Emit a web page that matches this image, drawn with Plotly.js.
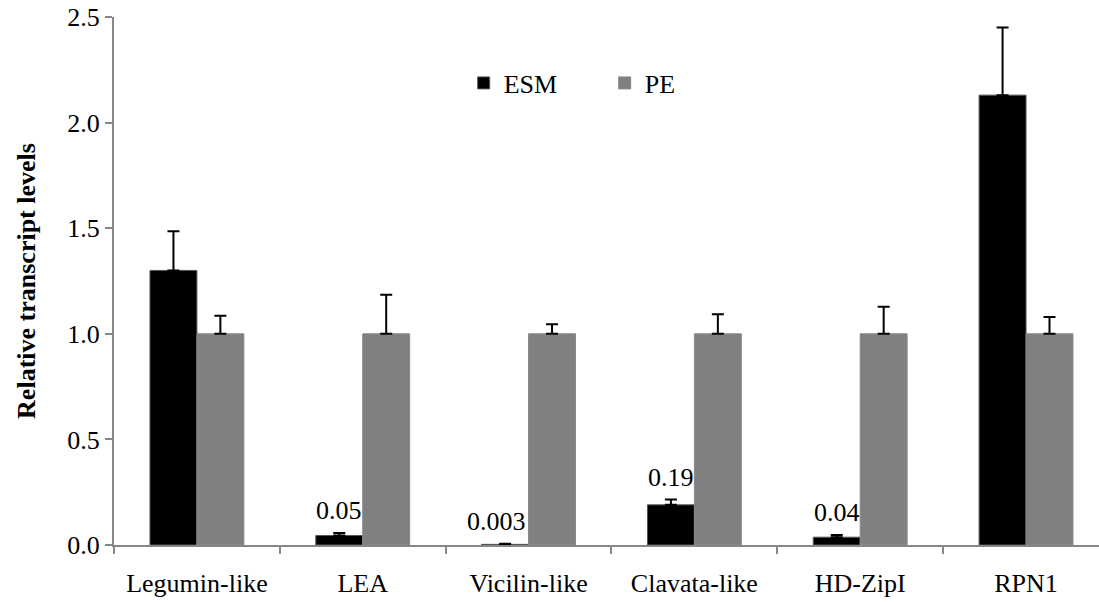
<!DOCTYPE html>
<html>
<head>
<meta charset="utf-8">
<script src="https://cdn.plot.ly/plotly-3.0.1.min.js"></script>
<style>
html,body{margin:0;padding:0;overflow:hidden;background:#fff;}
#chart{width:1099px;height:602px;}
</style>
</head>
<body>
<div id="chart"></div>
<script>
const categories = ['Legumin-like', 'LEA', 'Vicilin-like', 'Clavata-like', 'HD-ZipI', 'RPN1'];
const esmValues = [1.30, 0.045, 0.003, 0.19, 0.037, 2.13];
const esmErrors = [0.185, 0.012, 0.003, 0.025, 0.01, 0.32];
const peValues = [1.0, 1.0, 1.0, 1.0, 1.0, 1.0];
const peErrors = [0.086, 0.185, 0.045, 0.092, 0.128, 0.08];
const esmLabels = ['', '0.05', '0.003', '0.19', '0.04', ''];
const yTicks = [0, 0.5, 1.0, 1.5, 2.0, 2.5];

const FONT = 'Liberation Serif, Times New Roman, Times, serif';
const AXIS_COLOR = '#878787';

const traces = [
  {
    type: 'bar', name: 'ESM', x: categories, y: esmValues,
    marker: {color: '#000000', line: {color: '#555555', width: 1}},
    error_y: {type: 'data', array: esmErrors, arrayminus: esmValues.map(() => 0), symmetric: false,
              color: '#000000', thickness: 2, width: 6},
    hoverinfo: 'x+y'
  },
  {
    type: 'bar', name: 'PE', x: categories, y: peValues,
    marker: {color: '#808080', line: {color: '#888888', width: 1}},
    error_y: {type: 'data', array: peErrors, arrayminus: peValues.map(() => 0), symmetric: false,
              color: '#000000', thickness: 2, width: 6},
    hoverinfo: 'x+y'
  }
];

const annotations = [];
categories.forEach((c, i) => {
  if (esmLabels[i]) {
    annotations.push({
      x: c, y: esmValues[i] + esmErrors[i], xref: 'x', yref: 'y',
      text: esmLabels[i], showarrow: false,
      xshift: (esmLabels[i].length > 4 ? -32 : -23.5), yshift: 6, yanchor: 'bottom',
      font: {family: FONT, size: 26, color: '#000'}
    });
  }
});

const layout = {
  width: 1099, height: 602,
  margin: {l: 114, r: 0, t: 17, b: 57},
  paper_bgcolor: '#ffffff', plot_bgcolor: '#ffffff',
  font: {family: FONT, size: 26, color: '#000'},
  barmode: 'group', bargap: 0.434, bargroupgap: 0,
  showlegend: true,
  legend: {
    orientation: 'h', x: 0.355, xanchor: 'left', y: 0.875, yanchor: 'middle',
    font: {family: FONT, size: 26, color: '#000'},
    entrywidth: 96, entrywidthmode: 'pixels',
    bgcolor: 'rgba(0,0,0,0)', traceorder: 'normal'
  },
  xaxis: {
    type: 'category', range: [-0.5, 5.44],
    showline: true, linecolor: AXIS_COLOR, linewidth: 2,
    ticks: 'outside', tickson: 'boundaries', ticklen: 7, tickwidth: 2, tickcolor: AXIS_COLOR,
    showgrid: false, zeroline: false, ticklabelstandoff: 14,
    tickfont: {family: FONT, size: 26, color: '#000'}
  },
  yaxis: {
    range: [0, 2.5], tickvals: yTicks, ticktext: yTicks.map(v => v.toFixed(1)),
    showline: true, linecolor: AXIS_COLOR, linewidth: 2,
    ticks: 'outside', ticklen: 7, tickwidth: 2, tickcolor: AXIS_COLOR,
    showgrid: false, zeroline: false, ticklabelstandoff: 0,
    tickfont: {family: FONT, size: 26, color: '#000'},
    title: {text: '<b>Relative transcript levels</b>', standoff: 24,
            font: {family: FONT, size: 26, color: '#000'}}
  },
  annotations: annotations
};

Plotly.newPlot('chart', traces, layout, {displayModeBar: false, staticPlot: true});
</script>
</body>
</html>
